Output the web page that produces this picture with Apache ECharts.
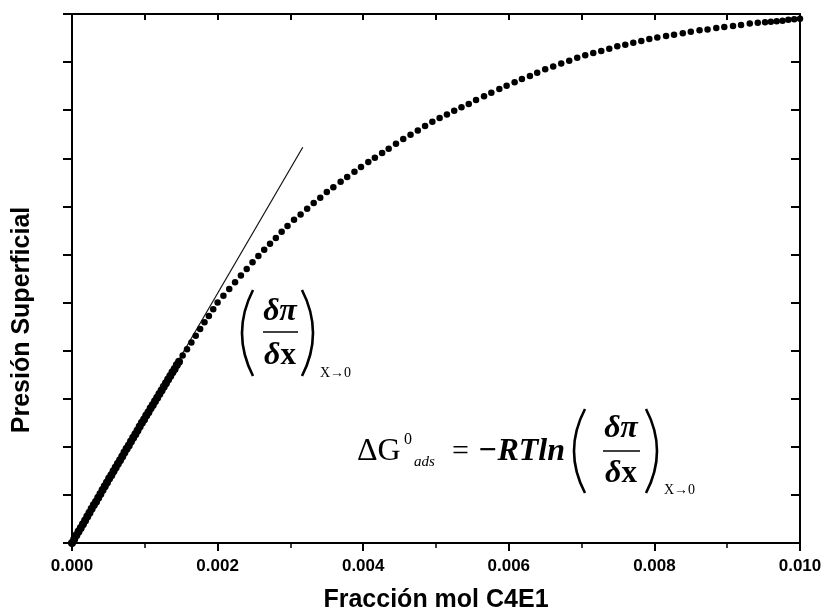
<!DOCTYPE html>
<html><head><meta charset="utf-8">
<script src="https://cdn.jsdelivr.net/npm/echarts@6/dist/echarts.min.js"></script>
<style>html,body{margin:0;padding:0;background:#fff}#c{width:824px;height:612px}</style>
</head><body><div id="c"></div>
<script>
const xTickLabels = ['0.000', '0.002', '0.004', '0.006', '0.008', '0.010'];
const xTitle = 'Fracción mol C4E1';
const yTitle = 'Presión Superficial';

// measured points (mole fraction, surface pressure in axis units)
const fraccion = [
  0.00000, 0.00003, 0.00006, 0.00009, 0.00012, 0.00015, 0.00018, 0.00021, 0.00024, 0.00027,
  0.00030, 0.00033, 0.00036, 0.00039, 0.00042, 0.00045, 0.00048, 0.00051, 0.00054, 0.00057,
  0.00060, 0.00063, 0.00066, 0.00069, 0.00072, 0.00075, 0.00078, 0.00081, 0.00084, 0.00087,
  0.00090, 0.00093, 0.00096, 0.00099, 0.00102, 0.00105, 0.00108, 0.00111, 0.00114, 0.00117,
  0.00120, 0.00123, 0.00126, 0.00129, 0.00132, 0.00135, 0.00138, 0.00141, 0.00144, 0.00147,
  0.00152, 0.00158, 0.00164, 0.00170, 0.00176, 0.00182, 0.00188, 0.00194, 0.00200,
  0.00208, 0.00216, 0.00224, 0.00232, 0.00240, 0.00248,
  0.00256, 0.00264, 0.00272, 0.00280, 0.00288, 0.00296,
  0.00305, 0.00314, 0.00323, 0.00332, 0.00341, 0.00350,
  0.00359, 0.00369, 0.00378, 0.00388, 0.00397,
  0.00407, 0.00416, 0.00426, 0.00435, 0.00445,
  0.00455, 0.00465, 0.00475, 0.00485, 0.00495,
  0.00505, 0.00515, 0.00525, 0.00535, 0.00545,
  0.00555, 0.00566, 0.00576, 0.00587, 0.00597,
  0.00608, 0.00618, 0.00629, 0.00639,
  0.00650, 0.00661, 0.00672, 0.00683, 0.00694,
  0.00705, 0.00716, 0.00727, 0.00738, 0.00749,
  0.00760, 0.00771, 0.00782, 0.00793,
  0.00804, 0.00816, 0.00827, 0.00839, 0.00850,
  0.00862, 0.00873, 0.00885, 0.00896,
  0.00908, 0.00919, 0.00931, 0.00942,
  0.00952, 0.00960, 0.00968, 0.00976, 0.00984, 0.00992, 0.01000
];
const presion = [
  0.00, 0.08, 0.16, 0.24, 0.31, 0.39, 0.47, 0.55, 0.63, 0.71,
  0.79, 0.86, 0.94, 1.02, 1.10, 1.18, 1.26, 1.34, 1.41, 1.49,
  1.57, 1.65, 1.72, 1.80, 1.88, 1.96, 2.03, 2.11, 2.19, 2.26,
  2.34, 2.42, 2.50, 2.57, 2.65, 2.72, 2.80, 2.87, 2.95, 3.02,
  3.10, 3.17, 3.25, 3.32, 3.40, 3.47, 3.55, 3.62, 3.70, 3.77,
  3.90, 4.03, 4.17, 4.31, 4.45, 4.59, 4.72, 4.86, 5.00,
  5.14, 5.28, 5.42, 5.56, 5.70, 5.84,
  5.97, 6.10, 6.22, 6.34, 6.47, 6.59,
  6.72, 6.83, 6.95, 7.07, 7.18, 7.30,
  7.40, 7.51, 7.61, 7.72, 7.82,
  7.92, 8.01, 8.11, 8.20, 8.30,
  8.40, 8.49, 8.58, 8.67, 8.76,
  8.84, 8.91, 8.99, 9.06, 9.13,
  9.21, 9.29, 9.36, 9.44, 9.51,
  9.58, 9.65, 9.71, 9.78,
  9.85, 9.91, 9.97, 10.03, 10.09,
  10.14, 10.19, 10.23, 10.28, 10.33,
  10.36, 10.40, 10.44, 10.48,
  10.51, 10.54, 10.57, 10.60, 10.63,
  10.66, 10.68, 10.71, 10.73,
  10.75, 10.77, 10.80, 10.82,
  10.83, 10.84, 10.85, 10.86, 10.88, 10.89, 10.90
];
// tangent at x -> 0
const tangenteX = [0, 0.00317];
const tangenteY = [0, 8.23];

const chart = echarts.init(document.getElementById('c'), null, {renderer: 'canvas'});
const black = '#000';
const serif = '"Liberation Serif", "Times New Roman", serif';
const sans = '"Liberation Sans", Arial, sans-serif';

function paren(x, top, bottom, bulge) {
  return {type: 'bezierCurve', silent: true,
    shape: {x1: x, y1: top, x2: x, y2: bottom, cpx1: x + bulge, cpy1: (top + bottom) / 2},
    style: {stroke: black, lineWidth: 2.6, fill: null}};
}
function txt(x, y, text, font, align, extra) {
  return {type: 'text', silent: true, x: x, y: y,
    style: Object.assign({text: text, font: font, fill: black, align: align || 'left', verticalAlign: 'middle'}, extra || {})};
}
function bar(x1, x2, y) {
  return {type: 'line', silent: true, shape: {x1: x1, y1: y, x2: x2, y2: y}, style: {stroke: black, lineWidth: 1.5}};
}
const dxRich = {a: {font: 'italic bold 32px ' + serif, fill: black}, b: {font: 'bold 31px ' + serif, fill: black}};

const option = {
  animation: false,
  backgroundColor: '#fff',
  grid: {left: 72, right: 24, top: 14, bottom: 69, containLabel: false, outerBoundsMode: 'none'},
  xAxis: [
    {type: 'value', position: 'bottom', min: 0, max: 0.01, interval: 0.002,
     axisLine: {show: true, onZero: false, lineStyle: {color: black, width: 2}},
     axisTick: {show: true, inside: false, length: 8, lineStyle: {color: black, width: 2}},
     minorTick: {show: true, splitNumber: 2, length: 5, lineStyle: {color: black, width: 1.5}},
     splitLine: {show: false},
     axisLabel: {color: black, fontSize: 17, fontWeight: 'bold', fontFamily: sans, margin: 15,
       formatter: function (v) { return xTickLabels[Math.round(v / 0.002)]; }},
     name: xTitle, nameLocation: 'middle', nameGap: 45,
     nameTextStyle: {color: black, fontSize: 25, fontWeight: 'bold', fontFamily: sans}},
    {type: 'value', position: 'top', min: 0, max: 0.01, interval: 0.001,
     axisLine: {show: true, onZero: false, lineStyle: {color: black, width: 2}},
     axisTick: {show: true, inside: true, length: 6, lineStyle: {color: black, width: 2}},
     axisLabel: {show: false}, splitLine: {show: false}}
  ],
  yAxis: [
    {type: 'value', position: 'left', min: 0, max: 11, interval: 1,
     axisLine: {show: true, onZero: false, lineStyle: {color: black, width: 2}},
     axisTick: {show: true, inside: false, length: 9, lineStyle: {color: black, width: 2}},
     axisLabel: {show: false}, splitLine: {show: false}},
    {type: 'value', position: 'right', min: 0, max: 11, interval: 1,
     axisLine: {show: true, onZero: false, lineStyle: {color: black, width: 2}},
     axisTick: {show: true, inside: true, length: 9, lineStyle: {color: black, width: 2}},
     axisLabel: {show: false}, splitLine: {show: false}}
  ],
  series: [
    {type: 'line', xAxisIndex: 0, yAxisIndex: 0, showSymbol: false, silent: true,
     data: tangenteX.map(function (x, i) { return [x, tangenteY[i]]; }),
     lineStyle: {color: '#111', width: 1.2}, z: 2},
    {type: 'scatter', xAxisIndex: 0, yAxisIndex: 0, symbol: 'circle', clip: false,
     symbolSize: function (val) { return val[0] < 0.0015 ? 8 : 6.5; },
     data: fraccion.map(function (x, i) { return [x, presion[i]]; }),
     itemStyle: {color: black, opacity: 1}, z: 3}
  ],
  graphic: [
    txt(22, 320, yTitle, 'bold 25px ' + sans, 'center'),
    // (dπ/dx)_{X->0}
    paren(253, 290, 376, -22),
    paren(302, 290, 376, 22),
    txt(280, 312, 'δπ', 'italic bold 32px ' + serif, 'center'),
    bar(263, 298, 332),
    txt(280, 356, '{a|δ}{b|x}', 'italic bold 32px ' + serif, 'center', {rich: dxRich}),
    txt(320, 373, 'X→0', '14px ' + serif, 'left'),
    // ΔG0ads = -RTln(dπ/dx)_{X->0}
    txt(357, 452, 'ΔG', '32px ' + serif, 'left'),
    txt(404, 440, '0', '16px ' + serif, 'left'),
    txt(414, 462, 'ads', 'italic 15px ' + serif, 'left'),
    txt(452, 452, '=', '30px ' + serif, 'left'),
    txt(478, 452, '−RTln', 'italic bold 32px ' + serif, 'left'),
    paren(585, 409, 493, -22),
    paren(646, 409, 493, 22),
    txt(621, 429, 'δπ', 'italic bold 32px ' + serif, 'center'),
    bar(603, 640, 451),
    txt(621, 474, '{a|δ}{b|x}', 'italic bold 32px ' + serif, 'center', {rich: dxRich}),
    txt(664, 490, 'X→0', '14px ' + serif, 'left')
  ]
};
// rotate the y title
option.graphic[0].rotation = Math.PI / 2;
chart.setOption(option);
</script>
</body></html>
